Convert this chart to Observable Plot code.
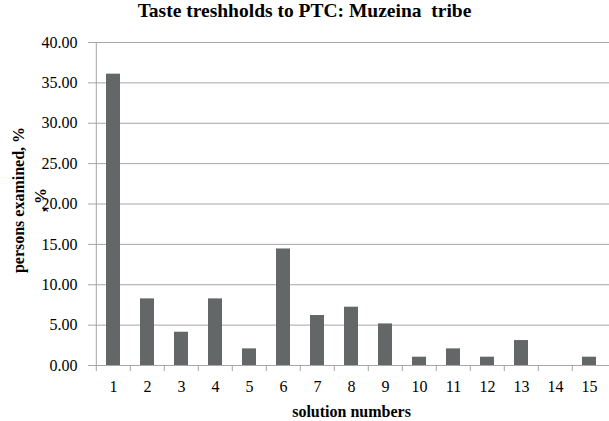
<!DOCTYPE html>
<html>
<head>
<meta charset="utf-8">
<script src="https://cdn.jsdelivr.net/npm/d3@7"></script>
<script src="https://cdn.jsdelivr.net/npm/@observablehq/plot@0.6"></script>
<style>
  body { margin: 0; background: #fff; }
  #title { height: 30px; line-height: 35px; text-align: center; font: bold 19.5px "Liberation Serif", "Times New Roman", serif; color: #000; width: 609px; overflow: visible; }
  svg { display: block; }
  svg text, svg g[aria-label] { font-family: "Liberation Serif", "Times New Roman", serif !important; }
</style>
</head>
<body>
<div id="title">Taste treshholds to PTC: Muzeina&nbsp; tribe</div>
<div id="chart"></div>
<script>
const solutions = ["1","2","3","4","5","6","7","8","9","10","11","12","13","14","15"];
const percents = [36.08, 8.25, 4.12, 8.25, 2.06, 14.43, 6.19, 7.22, 5.15, 1.03, 2.06, 1.03, 3.09, 0, 1.03];
const yTicks = [0, 5, 10, 15, 20, 25, 30, 35, 40];
const yLabel = "persons examined, %\n, %";
const xLabel = "solution numbers";

const data = solutions.map((s, i) => ({solution: s, value: percents[i]}));

const W = 609, H = 391, mL = 93, mR = 0, mT = 12, mB = 56;
const step = (W - mL - mR) / solutions.length;
const grey = "#a6a6a6";
const font = "'Liberation Serif', 'Times New Roman', serif";

const chart = Plot.plot({
  width: W,
  height: H,
  marginLeft: mL,
  marginRight: mR,
  marginTop: mT,
  marginBottom: mB,
  style: {fontFamily: font, fontSize: "16px", color: "#000", background: "#fff"},
  x: {type: "band", domain: solutions, paddingInner: 0.59, paddingOuter: 0.295, axis: null},
  y: {domain: [0, 40], axis: null},
  marks: [
    Plot.gridY(yTicks, {stroke: grey, strokeOpacity: 1, strokeWidth: 1}),
    Plot.ruleX([solutions[0]], {dx: -step / 2, stroke: grey, strokeWidth: 1}),
    Plot.ruleY([0], {stroke: grey, strokeWidth: 1}),
    Plot.ruleX(solutions, {dx: -step / 2, y1: 0, y2: 0, insetBottom: -6, stroke: grey, strokeWidth: 1}),
    Plot.barY(data, {x: "solution", y: "value", fill: "#646767"}),
    Plot.axisY(yTicks, {tickSize: 5, tickPadding: 11, stroke: grey, tickFormat: d => d.toFixed(2), fontSize: 16, fontFamily: font, fill: "#000", label: null}),
    Plot.axisX(solutions, {tickSize: 0, tickPadding: 15, fontSize: 16, fontFamily: font, fill: "#000", label: null}),
    Plot.text([xLabel], {frameAnchor: "bottom", dy: 46, lineAnchor: "middle", textAnchor: "middle", fontWeight: "bold", fontSize: 16, fontFamily: font, fill: "#000"}),
    Plot.text([yLabel], {frameAnchor: "left", dx: -66, dy: -4, rotate: -90, textAnchor: "middle", lineAnchor: "middle", lineHeight: 1.375, fontWeight: "bold", fontSize: 16, fontFamily: font, fill: "#000"})
  ]
});
document.getElementById("chart").appendChild(chart);
</script>
</body>
</html>
